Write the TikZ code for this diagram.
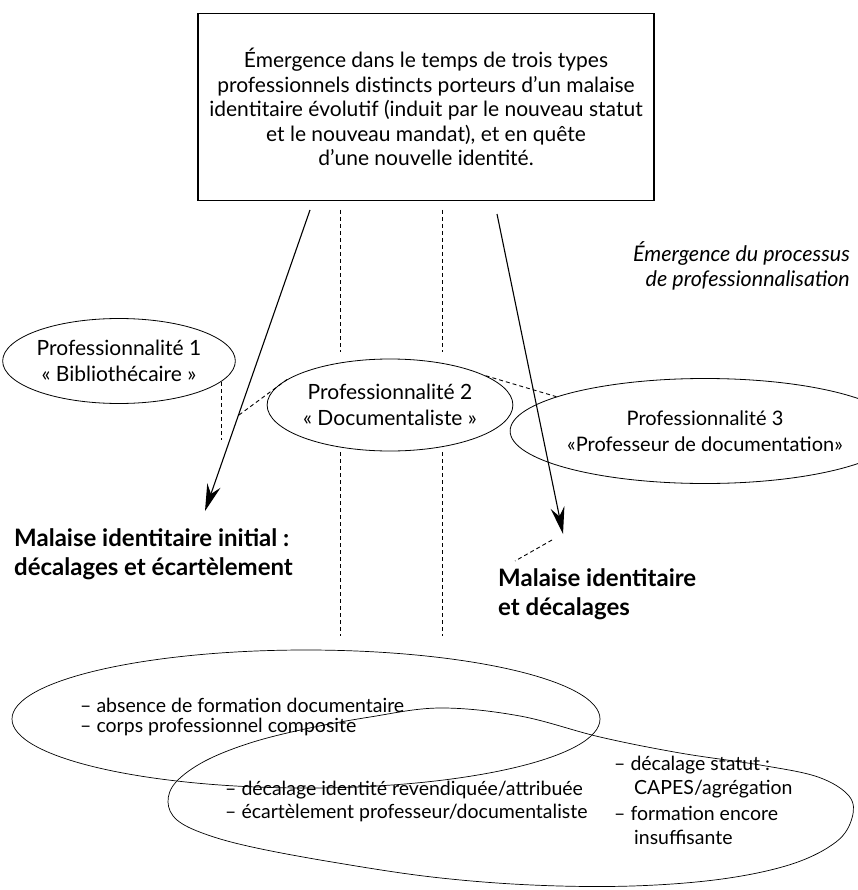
\documentclass[tikz,border=0pt]{standalone}
\usepackage{fontspec}
\setmainfont{Lato}
\usetikzlibrary{arrows.meta,shapes.geometric}
\begin{document}
\begin{tikzpicture}[x=1pt,y=-1pt,
  txt/.style={font=\fontsize{21}{24.5}\selectfont, inner sep=0pt},
  bold/.style={font=\fontsize{24}{29}\selectfont\bfseries, inner sep=0pt, align=left},
  oval/.style={draw, ellipse, line width=0.8pt, inner sep=0pt, align=center,
               font=\fontsize{21}{26}\selectfont},
  zone/.style={line width=0.7pt},
  flow/.style={line width=1.1pt, -{Stealth[length=27pt,width=14pt,inset=9pt]}},
  guide/.style={dash pattern=on 4pt off 3pt, line width=0.9pt},
  item/.style={font=\fontsize{19.5}{23}\selectfont, inner sep=0pt, align=left, anchor=west}]
\useasboundingbox (0,0) rectangle (857,890);

% title box
\node[draw, line width=1.3pt, minimum width=456pt, minimum height=187pt,
      txt, align=center] (top) at (426,107)
  {Émergence dans le temps de trois types\\
   professionnels distincts porteurs d’un malaise\\
   identitaire évolutif (induit par le nouveau statut\\
   et le nouveau mandat), et en quête\\
   d’une nouvelle identité.};

% side label
\node[font=\fontsize{21.5}{25}\selectfont\itshape, align=right, inner sep=0pt,
      anchor=east] (proc) at (850,266)
  {Émergence du processus\\de professionnalisation};

% three professional types
\node[oval, minimum width=213pt, minimum height=85pt] (p1) at (119,361)
  {Professionnalité 1\\« Bibliothécaire »};
\node[oval, minimum width=210pt, minimum height=92pt] (p2) at (390,405)
  {Professionnalité 2\\« Documentaliste »};
\node[oval, minimum width=300pt, minimum height=105pt,
      font=\fontsize{20}{26}\selectfont] (p3) at (705,431)
  {Professionnalité 3\\«Professeur de documentation»};

% arrows from the title box
\coordinate (a1s) at (310,210);
\coordinate (a1e) at (205,511);
\coordinate (a2s) at (497,214);
\coordinate (a2e) at (563,534);
\draw[flow] (a1s) -- (a1e);
\draw[flow] (a2s) -- (a2e);

% vertical dashed guides
\coordinate (g1a) at (340,210); \coordinate (g1b) at (340,352);
\coordinate (g1c) at (340,452); \coordinate (g1d) at (340,636);
\coordinate (g2a) at (442,210); \coordinate (g2b) at (442,352);
\coordinate (g2c) at (442,452); \coordinate (g2d) at (442,636);
\draw[guide] (g1a) -- (g1b) (g1c) -- (g1d);
\draw[guide] (g2a) -- (g2b) (g2c) -- (g2d);

% short dashed links
\coordinate (d1a) at (221,382); \coordinate (d1b) at (221,440);
\draw[guide] (d1a) -- (d1b);
\coordinate (onarrow) at (239,415);
\draw[guide] (onarrow) -- (p2.166);
\draw[guide] (p2.17) -- (p3.167);
\coordinate (d3a) at (552,540); \coordinate (d3b) at (515,561);
\draw[guide] (d3a) -- (d3b);

% outcomes
\node[bold, anchor=north west] (m1) at (14,528)
  {Malaise identitaire initial :\\décalages et écartèlement};
\node[bold, anchor=north west] (m2) at (498,568)
  {Malaise identitaire\\et décalages};

% overlapping zones
\draw[zone] (306,719) ellipse [x radius=294, y radius=69];
\draw[zone] plot[smooth cycle, tension=0.6] coordinates {
  (168,802) (176,782) (205,761) (250,743) (305,729) (370,717) (440,708)
  (520,716) (600,737) (680,753) (760,765) (818,777) (849,796) (852,818)
  (836,842) (792,864) (722,879) (632,886) (532,885) (432,877) (332,862)
  (252,847) (205,834) (177,820)};

\node[item] (tA1) at (80,705) {– absence de formation documentaire};
\node[item] (tA2) at (80,727) {– corps professionnel composite};
\node[item] (tB1) at (225,790) {– décalage identité revendiquée/attribuée};
\node[item] (tB2) at (225,813) {– écartèlement professeur/documentaliste};
\node[item] (tC1) at (614,765) {– décalage statut :};
\node[item] (tC2) at (634,789) {CAPES/agrégation};
\node[item] (tC3) at (614,813) {– formation encore};
\node[item] (tC4) at (634,837) {insuffisante};
\end{tikzpicture}
\end{document}
